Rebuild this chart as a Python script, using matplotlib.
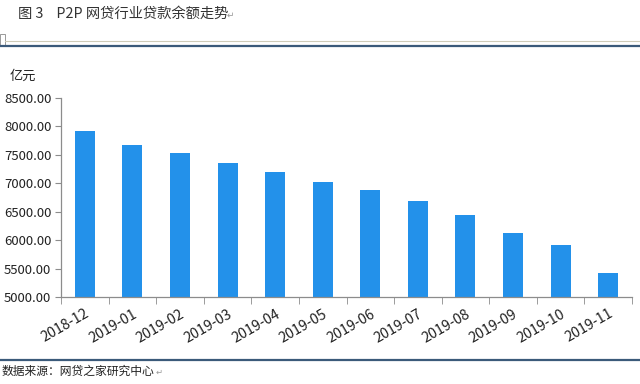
import matplotlib
matplotlib.use("Agg")
import matplotlib.pyplot as plt
from matplotlib.lines import Line2D
from matplotlib.patches import Rectangle

plt.rcParams["font.family"] = ["Noto Sans CJK SC", "DejaVu Sans"]

months = ["2018-12", "2019-01", "2019-02", "2019-03", "2019-04", "2019-05",
          "2019-06", "2019-07", "2019-08", "2019-09", "2019-10", "2019-11"]
balance = [7912, 7666, 7526, 7357, 7198, 7022, 6882, 6694, 6447, 6119, 5908, 5422]
y_ticks = [5000, 5500, 6000, 6500, 7000, 7500, 8000, 8500]

BAR = "#2391EA"
AXIS = "#8C8C8C"

fig = plt.figure(figsize=(6.4, 3.84), dpi=100)
ax = fig.add_axes([61 / 640, 1 - 297 / 384, 571 / 640, 199 / 384])

x = range(len(months))
ax.bar(x, balance, width=0.42, color=BAR, zorder=2)
ax.set_xlim(-0.5, len(months) - 0.5)
ax.set_ylim(5000, 8500)
ax.set_yticks(y_ticks)
ax.set_yticklabels([f"{v:.2f}" for v in y_ticks], fontsize=9.5, color="#222222")

ax.set_xticks(x)
ax.set_xticklabels(months, rotation=30, ha="right", rotation_mode="anchor",
                   fontsize=10.3, color="#222222")
ax.tick_params(axis="x", length=0, pad=7)
ax.set_xticks([i - 0.5 for i in range(len(months) + 1)], minor=True)
ax.tick_params(axis="x", which="minor", length=5, color=AXIS, direction="out")
ax.tick_params(axis="y", length=4, color=AXIS, direction="out", pad=3)

for side in ["top", "right"]:
    ax.spines[side].set_visible(False)
for side in ["left", "bottom"]:
    ax.spines[side].set_color(AXIS)
    ax.spines[side].set_linewidth(0.9)

fig.text(10 / 640, 1 - 76 / 384, "亿元", fontsize=9.5, color="#222222", va="center")

# page decoration from the source document
fig.text(18 / 640, 1 - 14 / 384, "图 3    P2P 网贷行业贷款余额走势", fontsize=10.3,
         color="#333333", va="center")
fig.text(227 / 640, 1 - 15 / 384, "↵", fontsize=6.5, color="#999999", va="center")
fig.add_artist(Line2D([5 / 640, 1], [1 - 40.5 / 384] * 2, color="#CFCBB8", lw=0.8))
fig.add_artist(Line2D([0, 1], [1 - 45.5 / 384] * 2, color="#3B5A7A", lw=1.6))
fig.add_artist(Rectangle((0, 1 - 46 / 384), 5 / 640, 12 / 384, fill=False,
                         edgecolor="#999999", lw=0.7))
fig.add_artist(Line2D([0, 1], [1 - 360 / 384] * 2, color="#3B5A7A", lw=1.6))
fig.text(2 / 640, 1 - 371 / 384, "数据来源：网贷之家研究中心", fontsize=8.5,
         color="#222222", va="center")
fig.text(156 / 640, 1 - 372 / 384, "↵", fontsize=6, color="#999999", va="center")

fig.savefig("out.png", dpi=100)
